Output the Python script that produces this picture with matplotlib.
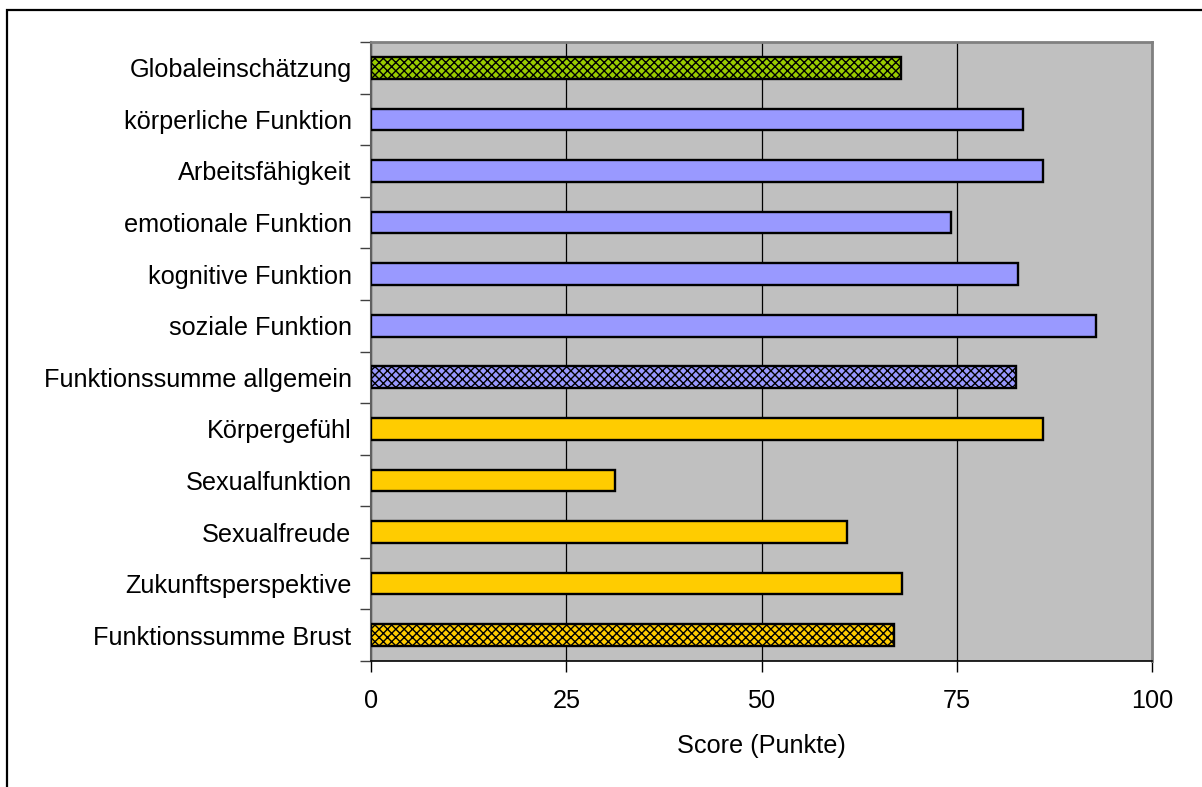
import matplotlib
matplotlib.use("Agg")
import matplotlib.pyplot as plt
from matplotlib.patches import Rectangle
from matplotlib.ticker import FixedLocator

plt.rcParams["font.family"] = ["Liberation Sans", "DejaVu Sans"]
plt.rcParams["hatch.linewidth"] = 1.0
plt.rcParams["hatch.color"] = "#333333"

categories = [
    "Globaleinschätzung",
    "körperliche Funktion",
    "Arbeitsfähigkeit",
    "emotionale Funktion",
    "kognitive Funktion",
    "soziale Funktion",
    "Funktionssumme allgemein",
    "Körpergefühl",
    "Sexualfunktion",
    "Sexualfreude",
    "Zukunftsperspektive",
    "Funktionssumme Brust",
]
scores = [67.9, 83.5, 86.1, 74.3, 82.9, 92.8, 82.6, 86.1, 31.2, 61.0, 68.0, 67.0]
groups = ["global", "general", "general", "general", "general", "general",
          "general_sum", "breast", "breast", "breast", "breast", "breast_sum"]
x_ticks = [0, 25, 50, 75, 100]

group_style = {
    "global": ("#99CC00", "xxxx"),
    "general": ("#9999FF", None),
    "general_sum": ("#9999FF", "xxxx"),
    "breast": ("#FFCC00", None),
    "breast_sum": ("#FFCC00", "xxxx"),
}

FS = 18.2

fig = plt.figure(figsize=(12.02, 7.87), dpi=100)
fig.patch.set_facecolor("white")
ax = fig.add_axes([371 / 1202, 1 - 661 / 787, (1152 - 371) / 1202, (661 - 42) / 787])
ax.set_facecolor("#C0C0C0")

ypos = list(range(len(categories)))
for y, val, grp in zip(ypos, scores, groups):
    color, hatch = group_style[grp]
    ax.barh(y, val, height=0.42, color=color, edgecolor="black",
            linewidth=1.7, hatch=hatch, zorder=3)

ax.set_xlim(0, 100)
ax.set_ylim(len(categories) - 0.5, -0.5)

ax.set_xticks(x_ticks)
ax.set_xticklabels([str(t) for t in x_ticks], fontsize=FS)
ax.xaxis.grid(True, color="black", linewidth=0.9, zorder=1)
ax.set_axisbelow(True)

# category boundaries carry the tick marks, labels sit at bar centres
ax.yaxis.set_major_locator(FixedLocator([i - 0.5 for i in range(len(categories) + 1)]))
ax.yaxis.set_major_formatter(plt.NullFormatter())
ax.set_yticks(ypos, minor=True)
ax.set_yticklabels(categories, minor=True, fontsize=FS)
ax.tick_params(axis="y", which="major", length=8, width=1, color="#404040", direction="out")
ax.tick_params(axis="y", which="minor", length=0, pad=14)
ax.tick_params(axis="x", which="major", length=8, width=1, color="black", direction="out", pad=12)

ax.set_xlabel("Score (Punkte)", fontsize=FS, labelpad=15)

for side in ("top", "right"):
    ax.spines[side].set_color("#808080")
    ax.spines[side].set_linewidth(2)
ax.spines["left"].set_color("#606060")
ax.spines["left"].set_linewidth(1.5)
ax.spines["bottom"].set_color("black")
ax.spines["bottom"].set_linewidth(1.2)

# outer frame of the chart area
fig.patches.append(Rectangle((7 / 1202, -0.05), 1.1, 1 - 10 / 787 + 0.05,
                             transform=fig.transFigure, fill=False,
                             edgecolor="black", linewidth=1.6))

fig.savefig("out.png", dpi=100)
